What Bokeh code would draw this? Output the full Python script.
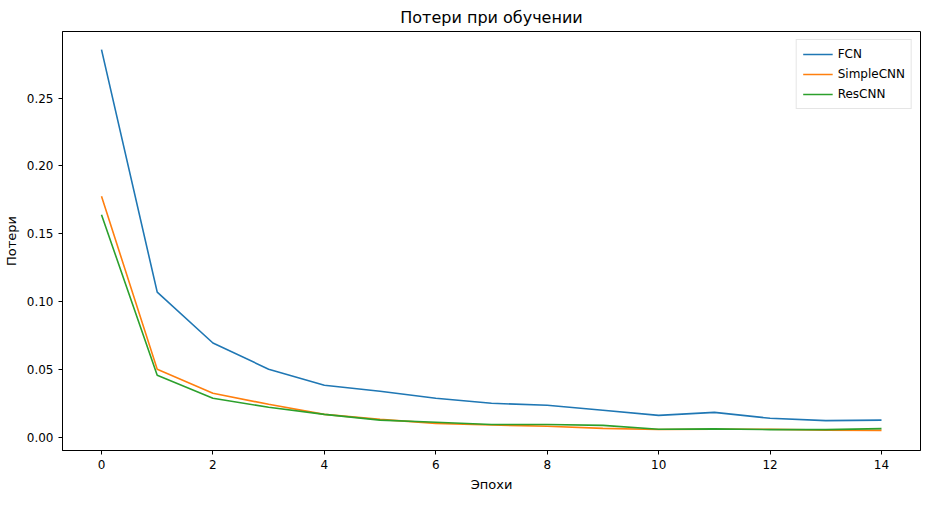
from bokeh.plotting import figure
from bokeh.models import Range1d, Legend, LegendItem, FixedTicker, NumeralTickFormatter
from bokeh.embed import file_html
from bokeh.resources import INLINE

epochs = list(range(15))
fcn = [0.2856, 0.107, 0.0696, 0.0503, 0.0385, 0.034, 0.0289, 0.0252, 0.0237, 0.020, 0.0163, 0.0185, 0.0141, 0.0124, 0.0128]
simple_cnn = [0.1776, 0.0503, 0.0326, 0.0244, 0.017, 0.0133, 0.0104, 0.0092, 0.0083, 0.0067, 0.0059, 0.0061, 0.006, 0.0054, 0.0052]
res_cnn = [0.164, 0.0459, 0.0289, 0.0222, 0.017, 0.0128, 0.0112, 0.0096, 0.0096, 0.0089, 0.006, 0.0063, 0.0058, 0.0058, 0.0065]

p = figure(width=922, height=494, output_backend="svg", toolbar_location=None,
           title="Потери при обучении", x_range=Range1d(-0.7, 14.7), y_range=Range1d(-0.0096, 0.299),
           x_axis_label="Эпохи", y_axis_label="Потери",
           min_border_left=54, min_border_right=2, min_border_top=25, min_border_bottom=42)
p.title.align = "center"
p.title.text_font_size = "16px"
p.title.text_font_style = "normal"
p.title.text_font = "DejaVu Sans"
p.title.text_color = "black"
p.grid.visible = False
p.outline_line_color = "black"
p.xaxis.ticker = FixedTicker(ticks=[0, 2, 4, 6, 8, 10, 12, 14])
p.yaxis.ticker = FixedTicker(ticks=[0, 0.05, 0.1, 0.15, 0.2, 0.25])
p.yaxis.formatter = NumeralTickFormatter(format="0.00")
for ax in (p.xaxis, p.yaxis):
    ax.axis_label_text_font_style = "normal"
    ax.axis_label_text_font_size = "13px"
    ax.axis_label_text_font = "DejaVu Sans"
    ax.axis_label_text_color = "black"
    ax.major_label_text_font = "DejaVu Sans"
    ax.major_label_text_font_size = "12px"
    ax.major_label_text_color = "black"
    ax.axis_line_color = "black"
    ax.major_tick_line_color = "black"
    ax.minor_tick_line_color = None
    ax.major_tick_in = 0
    ax.major_tick_out = 4

r1 = p.line(epochs, fcn, line_color="#1f77b4", line_width=1.6)
r2 = p.line(epochs, simple_cnn, line_color="#ff7f0e", line_width=1.6)
r3 = p.line(epochs, res_cnn, line_color="#2ca02c", line_width=1.6)

legend = Legend(items=[LegendItem(label="FCN", renderers=[r1]),
                       LegendItem(label="SimpleCNN", renderers=[r2]),
                       LegendItem(label="ResCNN", renderers=[r3])],
                location="top_right", label_text_font="DejaVu Sans", label_text_font_size="12px",
                label_text_color="black",
                border_line_color="#cccccc", spacing=4, padding=6, glyph_width=30,
                label_height=16, glyph_height=16, margin=8)
p.add_layout(legend)

open("out.html", "w").write(file_html(p, INLINE))
